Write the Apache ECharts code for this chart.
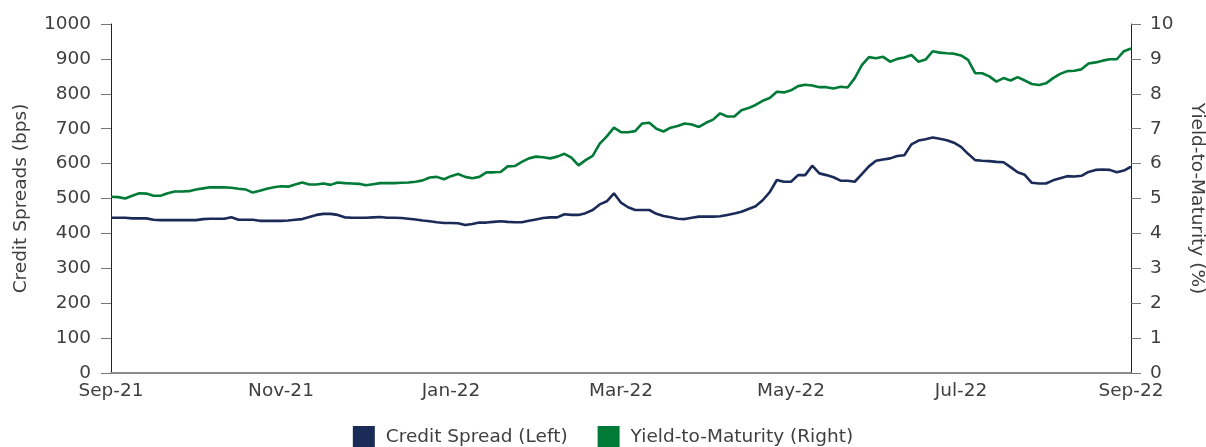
<!DOCTYPE html>
<html>
<head>
<meta charset="utf-8">
<script src="https://cdn.jsdelivr.net/npm/echarts@6/dist/echarts.min.js"></script>
<style>
  html, body { margin: 0; padding: 0; background: #fff; }
  #chart { width: 1206px; height: 447px; }
</style>
</head>
<body>
<div id="chart"></div>
<script>
// 12 samples per month, Sep-21 .. Sep-22
const monthLabels = ['Sep-21', 'Nov-21', 'Jan-22', 'Mar-22', 'May-22', 'Jul-22', 'Sep-22']

// credit spread, bps (left axis)
const creditSpread = [
  445, 445, 445, 443, 443, 443, 439, 438, 438, 438, 438, 438,
  438, 441, 442, 442, 442, 446, 439, 439, 439, 436, 436, 436,
  436, 437, 439, 441, 447, 453, 456, 456, 453, 446, 445, 445,
  445, 446, 447, 445, 445, 444, 442, 440, 437, 435, 432, 430,
  430, 429, 424, 427, 431, 431, 433, 435, 433, 432, 432, 436,
  440, 444, 446, 446, 455, 453, 453, 458, 467, 483, 492, 515,
  488, 475, 467, 467, 467, 456, 450, 446, 442, 441, 445, 448,
  448, 448, 449, 453, 457, 462, 470, 478, 495, 518, 553, 548,
  548, 567, 567, 594, 572, 567, 561, 551, 551, 548, 570, 592,
  608, 612, 615, 622, 624, 655, 666, 670, 675, 671, 667, 660,
  648, 628, 610, 608, 607, 605, 604, 590, 575, 568, 545, 543,
  543, 552, 558, 564, 563, 565, 576, 582, 583, 582, 575, 580,
  591
]

// yield-to-maturity, % (right axis)
const yieldToMaturity = [
  5.05, 5.04, 5.00, 5.08, 5.15, 5.14, 5.08, 5.08, 5.15, 5.20, 5.20, 5.21,
  5.26, 5.29, 5.32, 5.32, 5.32, 5.31, 5.28, 5.26, 5.17, 5.22, 5.28, 5.32,
  5.35, 5.34, 5.40, 5.46, 5.40, 5.40, 5.43, 5.39, 5.46, 5.44, 5.43, 5.42,
  5.38, 5.41, 5.44, 5.44, 5.44, 5.45, 5.46, 5.48, 5.52, 5.60, 5.62, 5.55,
  5.64, 5.70, 5.62, 5.58, 5.62, 5.75, 5.75, 5.76, 5.92, 5.93, 6.05, 6.15,
  6.20, 6.18, 6.15, 6.20, 6.28, 6.17, 5.95, 6.10, 6.22, 6.57, 6.78, 7.03,
  6.90, 6.90, 6.93, 7.15, 7.17, 7.00, 6.92, 7.03, 7.08, 7.15, 7.12, 7.05,
  7.17, 7.26, 7.44, 7.35, 7.35, 7.53, 7.59, 7.68, 7.80, 7.88, 8.06, 8.04,
  8.10, 8.22, 8.26, 8.24, 8.19, 8.19, 8.15, 8.20, 8.18, 8.45, 8.82, 9.05,
  9.02, 9.06, 8.92, 9.00, 9.04, 9.11, 8.92, 8.98, 9.22, 9.18, 9.16, 9.15,
  9.10, 8.97, 8.59, 8.59, 8.50, 8.35, 8.45, 8.38, 8.48, 8.38, 8.28, 8.25,
  8.30, 8.45, 8.57, 8.65, 8.66, 8.70, 8.87, 8.90, 8.95, 8.99, 8.99, 9.22,
  9.30
]

const categories = creditSpread.map((v, i) => (i % 24 === 0 ? monthLabels[i / 24] : ''))

const NAVY = '#1b2b58'
const GREEN = '#007a37'
const TEXT = '#3f3f3f'
const FONT = 'DejaVu Sans'
const FS = 18.5

const chart = echarts.init(document.getElementById('chart'))
chart.setOption({
  animation: false,
  textStyle: { fontFamily: FONT },
  grid: { left: 111, right: 75, top: 24, bottom: 74, containLabel: false, outerBoundsMode: 'none' },
  legend: {
    top: 421,
    left: 'center',
    icon: 'rect',
    itemWidth: 22,
    itemHeight: 22,
    itemGap: 30,
    textStyle: { fontSize: FS, color: TEXT, fontFamily: FONT, padding: [0, 0, 0, 6] },
    data: ['Credit Spread (Left)', 'Yield-to-Maturity (Right)']
  },
  xAxis: {
    type: 'category',
    data: categories,
    boundaryGap: false,
    axisLine: { lineStyle: { color: '#8c8c8c', width: 2 } },
    axisTick: { show: false },
    axisLabel: { interval: 23, color: TEXT, fontSize: FS, margin: 9, fontFamily: FONT },
    splitLine: { show: false }
  },
  yAxis: [
    {
      type: 'value',
      min: 0, max: 1000, interval: 100,
      name: 'Credit Spreads (bps)',
      nameLocation: 'middle',
      nameGap: 80,
      nameTextStyle: { fontSize: FS, color: TEXT, fontFamily: FONT },
      axisLine: { show: true, lineStyle: { color: '#222', width: 1 } },
      axisTick: { show: true, length: 10, lineStyle: { color: '#777' } },
      axisLabel: { color: TEXT, fontSize: FS, margin: 20, fontFamily: FONT, formatter: v => String(v) },
      splitLine: { show: false }
    },
    {
      type: 'value',
      min: 0, max: 10, interval: 1,
      position: 'right',
      name: 'Yield-to-Maturity (%)',
      nameLocation: 'middle',
      nameGap: 56,
      nameRotate: -90,
      nameTextStyle: { fontSize: FS, color: TEXT, fontFamily: FONT },
      axisLine: { show: true, lineStyle: { color: '#222', width: 1 } },
      axisTick: { show: true, length: 10, lineStyle: { color: '#777' } },
      axisLabel: { color: TEXT, fontSize: FS, margin: 19, fontFamily: FONT },
      splitLine: { show: false }
    }
  ],
  series: [
    {
      name: 'Credit Spread (Left)',
      type: 'line',
      yAxisIndex: 0,
      data: creditSpread,
      showSymbol: false,
      lineStyle: { color: NAVY, width: 2.6 },
      itemStyle: { color: NAVY }
    },
    {
      name: 'Yield-to-Maturity (Right)',
      type: 'line',
      yAxisIndex: 1,
      data: yieldToMaturity,
      showSymbol: false,
      lineStyle: { color: GREEN, width: 2.6 },
      itemStyle: { color: GREEN }
    }
  ]
})
</script>
</body>
</html>
